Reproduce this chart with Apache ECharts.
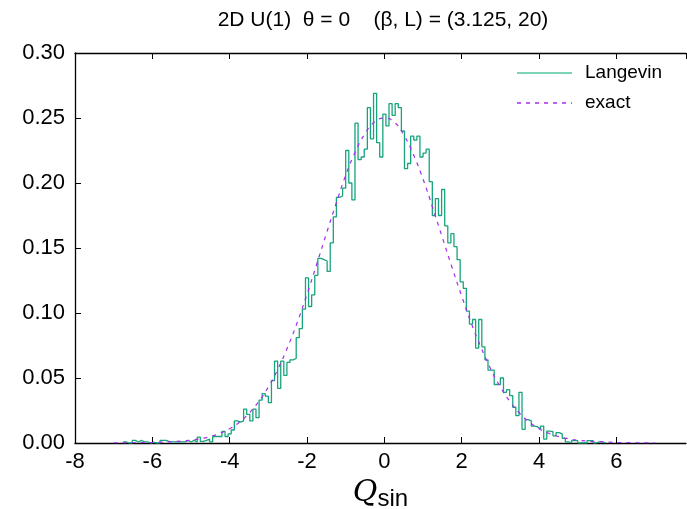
<!DOCTYPE html>
<html>
<head>
<meta charset="utf-8">
<script src="https://cdn.jsdelivr.net/npm/echarts@6/dist/echarts.min.js"></script>
<style>html,body{margin:0;padding:0;background:#fff;}#c{width:687px;height:509px;}</style>
</head>
<body>
<div id="c"></div>
<script>
// ---- data ----
const titleText = '2D U(1)  \u03b8 = 0    (\u03b2, L) = (3.125, 20)';
const seriesNames = ['Langevin', 'exact'];
const xTicks = [-8, -6, -4, -2, 0, 2, 4, 6];
const yTicks = [0.00, 0.05, 0.10, 0.15, 0.20, 0.25, 0.30];
// histogram: first bin left edge and bin width, then bin heights (left to right)
const binStart = -6.76;
const binWidth = 0.08;
const histValues = [
  0.0008, 0, 0, 0.002, 0.0008, 0.002, 0.0008, 0.0008, 0, 0.0005,
  0, 0, 0.002, 0.002, 0.001, 0.0008, 0.0008, 0.0008, 0.0008, 0.0008,
  0.002, 0.0008, 0.002, 0.0008, 0.0045, 0.0013, 0.002, 0.003, 0.0008, 0.005,
  0.005, 0.005, 0.009,
  0.005, 0.007, 0.010, 0.017, 0.016, 0.017, 0.026, 0.022, 0.017, 0.026,
  0.0195, 0.033, 0.038, 0.036, 0.031, 0.048, 0.063, 0.042, 0.063, 0.052,
  0.062, 0.064, 0.065, 0.081, 0.088, 0.103, 0.127, 0.105, 0.114, 0.129,
  0.142, 0.141, 0.140, 0.132,
  0.154, 0.174, 0.189, 0.190, 0.196, 0.225, 0.200, 0.187, 0.246, 0.218,
  0.220, 0.226, 0.258, 0.234, 0.269, 0.231, 0.220, 0.253, 0.244, 0.261,
  0.252, 0.261, 0.258, 0.240, 0.211, 0.215, 0.236, 0.233, 0.236, 0.220,
  0.223, 0.226, 0.201, 0.175, 0.188,
  0.175, 0.195, 0.167, 0.154, 0.161, 0.151, 0.141, 0.124, 0.119, 0.1015,
  0.0915, 0.095, 0.073, 0.095, 0.074, 0.064, 0.056, 0.056, 0.045, 0.045,
  0.050, 0.039, 0.041, 0.0365, 0.0275, 0.021, 0.039, 0.0105, 0.018, 0.017,
  0.013, 0.0125, 0.011, 0.013,
  0.003, 0.0092, 0.0087, 0.0055, 0.008, 0.007, 0.0036, 0.0008, 0, 0.0018,
  0.0018, 0, 0, 0, 0.0018, 0.0018, 0, 0.0008, 0.0008, 0
];
// exact distribution
const exactQ = [-7, -6.75, -6.5, -6.25, -6, -5.75, -5.5, -5.25, -5, -4.75, -4.5, -4.25, -4, -3.75, -3.5, -3.25, -3, -2.75, -2.5, -2.25, -2, -1.75, -1.5, -1.25, -1, -0.75, -0.5, -0.25, 0, 0.25, 0.5, 0.75, 1, 1.25, 1.5, 1.75, 2, 2.25, 2.5, 2.75, 3, 3.25, 3.5, 3.75, 4, 4.25, 4.5, 4.75, 5, 5.25, 5.5, 5.75, 6, 6.25, 6.5, 6.75, 7];
const exactP = [0.0001, 0.0001, 0.0002, 0.0003, 0.0004, 0.0007, 0.0010, 0.0015, 0.0022, 0.0033, 0.0050, 0.0075, 0.0110, 0.0160, 0.0229, 0.0318, 0.0431, 0.0571, 0.0738, 0.0930, 0.1145, 0.1375, 0.1610, 0.1840, 0.2060, 0.2240, 0.2380, 0.2470, 0.2500, 0.2470, 0.2370, 0.2220, 0.2030, 0.1810, 0.1580, 0.1350, 0.1130, 0.0920, 0.0735, 0.0570, 0.0430, 0.0318, 0.0229, 0.0160, 0.0110, 0.0075, 0.0050, 0.0033, 0.0022, 0.0015, 0.0010, 0.0007, 0.0004, 0.0003, 0.0002, 0.0001, 0.0001];

// ---- build ----
const histPts = [];
for (let i = 0; i < histValues.length; i++) {
  histPts.push([+(binStart + i * binWidth).toFixed(4), histValues[i]]);
}
const lastEdge = +(binStart + histValues.length * binWidth).toFixed(4);
histPts.push([lastEdge, histValues[histValues.length - 1]]);
histPts.push([lastEdge, 0]);
const exactPts = exactQ.map((q, i) => [q, exactP[i]]);

const FONT = 'Liberation Sans, Arial, Helvetica, sans-serif';
const tealC = '#17a47c';
const tealLegend = '#4fc4a0';
const purpC = '#a52cf0';

const chart = echarts.init(document.getElementById('c'), null, { renderer: 'canvas' });
chart.setOption({
  animation: false,
  backgroundColor: '#ffffff',
  title: {
    text: titleText,
    left: 378, top: 5, textAlign: 'center',
    textStyle: { fontFamily: FONT, fontSize: 21, fontWeight: 'normal', color: '#000' }
  },
  graphic: [
    { type: 'line', shape: { x1: 517, y1: 73, x2: 572, y2: 73 }, style: { stroke: tealLegend, lineWidth: 1.6 } },
    { type: 'text', x: 585, y: 73, style: { text: seriesNames[0], fontFamily: FONT, fontSize: 19, fill: '#000', verticalAlign: 'middle' } },
    { type: 'line', shape: { x1: 517, y1: 103, x2: 572, y2: 103 }, style: { stroke: purpC, lineWidth: 1.3, lineDash: [4, 5] } },
    { type: 'text', x: 585, y: 103, style: { text: seriesNames[1], fontFamily: FONT, fontSize: 19, fill: '#000', verticalAlign: 'middle' } }
  ],
  grid: { left: 75, right: 1, top: 53, bottom: 66, containLabel: false, outerBoundsMode: 'none' },
  xAxis: [{
    type: 'value', min: -8, max: 7.8, interval: 2,
    axisLine: { show: true, onZero: false, lineStyle: { color: '#000', width: 1.3 } },
    axisTick: { show: true, inside: true, length: 6, lineStyle: { color: '#000' } },
    axisLabel: { show: true, fontFamily: FONT, fontSize: 22, color: '#000', margin: 8, showMaxLabel: false,
      formatter: v => (xTicks.indexOf(v) >= 0 ? String(v) : '') },
    splitLine: { show: false },
    name: '{q|Q}{s|sin}', nameLocation: 'middle', nameGap: 24,
    nameTextStyle: { rich: {
      q: { fontFamily: 'DejaVu Serif, Liberation Serif, serif', fontStyle: 'italic', fontSize: 30, color: '#000' },
      s: { fontFamily: FONT, fontSize: 24, color: '#000', padding: [12, 0, 0, 0] }
    } }
  }, {
    type: 'value', position: 'top', min: -8, max: 7.8, interval: 2,
    axisLine: { show: true, onZero: false, lineStyle: { color: '#000', width: 1.3 } },
    axisTick: { show: true, inside: true, length: 6, lineStyle: { color: '#000' } },
    axisLabel: { show: false }, splitLine: { show: false }
  }],
  yAxis: {
    type: 'value', min: 0, max: 0.3, interval: 0.05,
    axisLine: { show: true, onZero: false, lineStyle: { color: '#000', width: 1.3 } },
    axisTick: { show: true, inside: true, length: 6, lineStyle: { color: '#000' } },
    axisLabel: { fontFamily: FONT, fontSize: 22, color: '#000', margin: 10,
      formatter: v => (yTicks.some(t => Math.abs(t - v) < 1e-9) ? v.toFixed(2) : '') },
    splitLine: { show: false }
  },
  series: [{
    name: seriesNames[0], type: 'line', step: 'end', data: histPts,
    symbol: 'none', clip: true,
    lineStyle: { color: tealC, width: 1.3 }, itemStyle: { color: tealC }, z: 2
  }, {
    name: seriesNames[1], type: 'line', data: exactPts, smooth: true,
    symbol: 'none', clip: true,
    lineStyle: { color: purpC, width: 1.2, type: [4, 5] }, itemStyle: { color: purpC }, z: 3
  }]
});
</script>
</body>
</html>
